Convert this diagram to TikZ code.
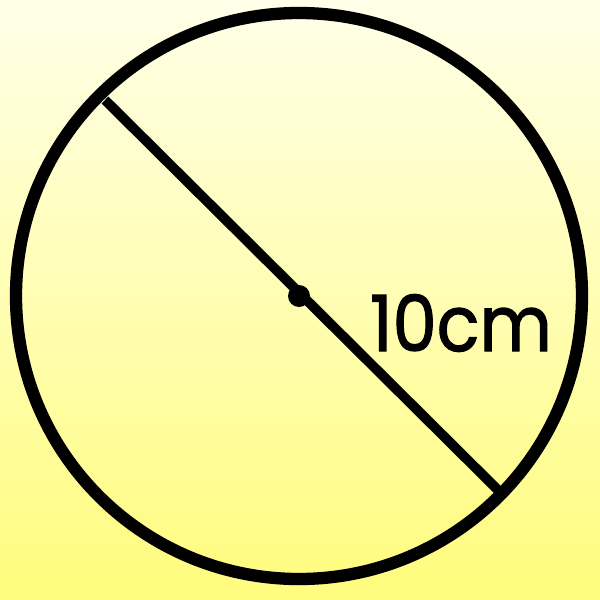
\documentclass[tikz,border=0pt]{standalone}
\usepackage{fontspec}
\newfontfamily\labelfont[FakeBold=1.6]{Poppins}
\begin{document}
\begin{tikzpicture}[x=0.01cm,y=-0.01cm,
  ring/.style={line width=3.5pt},
  diam/.style={line width=2.8pt},
  lbl/.style={font=\labelfont\fontsize{20}{24}\selectfont, inner sep=0pt, yscale=1.1}]
\shade[top color={rgb,255:red,255;green,255;blue,232}, bottom color={rgb,255:red,255;green,252;blue,125}] (0,0) rectangle (600,600);
\useasboundingbox (0,0) rectangle (600,600);
\coordinate (c) at (299,296);
\draw[ring] (c) circle (283);
\coordinate (p) at (105,100);
\coordinate (q) at (504,496);
\draw[diam] (p) -- (q);
\fill (c) circle (11);
\node[lbl] (t) at (461,323) {10cm};
\end{tikzpicture}
\end{document}
